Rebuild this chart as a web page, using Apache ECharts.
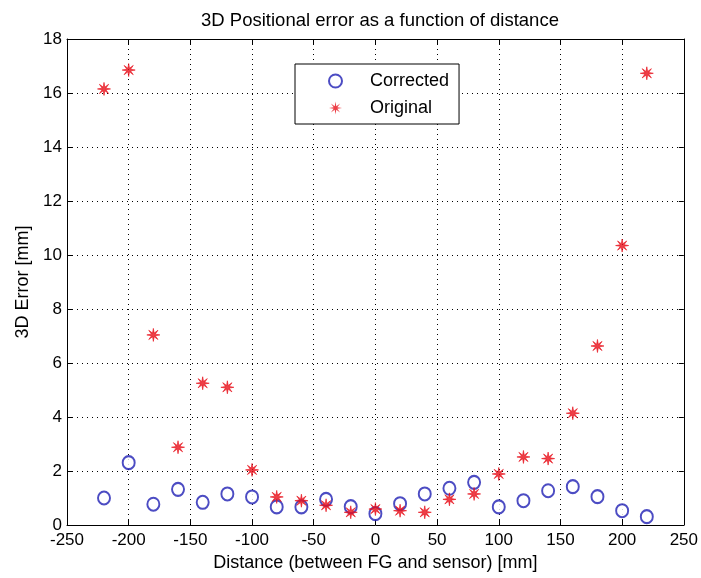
<!DOCTYPE html>
<html>
<head>
<meta charset="utf-8">
<script src="https://cdn.jsdelivr.net/npm/echarts@6/dist/echarts.min.js"></script>
<style>
  html, body { margin: 0; padding: 0; background: #fff; }
  #main { width: 701px; height: 578px; }
</style>
</head>
<body>
<div id="main"></div>
<script>
// distances along the axis [mm]
const distances = [-220, -200, -180, -160, -140, -120, -100, -80, -60, -40, -20, 0,
                   20, 40, 60, 80, 100, 120, 140, 160, 180, 200, 220];
// 3D error after correction [mm]
const corrected = [1.0, 2.31, 0.77, 1.32, 0.84, 1.15, 1.04, 0.67, 0.67, 0.95, 0.68, 0.42,
                   0.79, 1.15, 1.36, 1.58, 0.67, 0.9, 1.27, 1.42, 1.05, 0.53, 0.31];
// 3D error before correction [mm]
const original = [16.15, 16.85, 7.04, 2.88, 5.25, 5.1, 2.04, 1.04, 0.9, 0.73, 0.47, 0.59,
                  0.53, 0.47, 0.95, 1.15, 1.89, 2.52, 2.46, 4.14, 6.63, 10.35, 16.73];
const xTicks = [-250, 250, 50];
const yTicks = [0, 18, 2];

// MATLAB-like '*' marker
const starPath = 'path://M20 10 L12.8 11.2 L17.07 17.07 L11.2 12.8 L10 20 L8.8 12.8 L2.93 17.07 L7.2 11.2 L0 10 L7.2 8.8 L2.93 2.93 L8.8 7.2 L10 0 L11.2 7.2 L17.07 2.93 L12.8 8.8 Z';

const chart = echarts.init(document.getElementById('main'));
const font = 'Liberation Sans, Arial, sans-serif';

function pairs(ys) {
    return distances.map((d, i) => [d, ys[i]]);
}

// top / right frame axes without labels
const boxAxis = {
    axisLine: { show: true, onZero: false, lineStyle: { color: '#000', width: 1 } },
    axisTick: { show: true, inside: true, length: 5, lineStyle: { color: '#000' } },
    axisLabel: { show: false },
    splitLine: { show: false }
};

const option = {
    backgroundColor: '#fff',
    animation: false,
    title: {
        text: '3D Positional error as a function of distance',
        left: 375,
        textAlign: 'center',
        top: 6,
        textStyle: { fontFamily: font, fontSize: 18.5, fontWeight: 'normal', color: '#000' }
    },
    legend: {
        orient: 'vertical',
        left: 295,
        top: 64,
        padding: [8, 10, 7, 33],
        itemWidth: 13,
        itemHeight: 13,
        itemGap: 9,
        itemStyle: { borderWidth: 0 },
        borderColor: '#000',
        borderWidth: 1,
        backgroundColor: '#fff',
        textStyle: { fontFamily: font, fontSize: 18, color: '#000', padding: [0, 0, 0, 23] },
        data: [
            { name: 'Corrected', icon: 'emptyCircle' },
            { name: 'Original', icon: starPath }
        ]
    },
    grid: { left: 67, right: 15, top: 39, bottom: 53 },
    xAxis: [{
        type: 'value',
        min: xTicks[0], max: xTicks[1], interval: xTicks[2],
        name: 'Distance (between FG and sensor) [mm]',
        nameLocation: 'middle',
        nameGap: 29,
        nameTextStyle: { fontFamily: font, fontSize: 18, color: '#000' },
        axisLine: { show: true, onZero: false, lineStyle: { color: '#000', width: 1 } },
        axisTick: { show: true, inside: true, length: 5, lineStyle: { color: '#000' } },
        axisLabel: { fontFamily: font, fontSize: 17, color: '#000', margin: 7 },
        splitLine: { show: true, lineStyle: { color: '#000', type: [1, 4], width: 1 } }
    }, Object.assign({
        type: 'value', position: 'top',
        min: xTicks[0], max: xTicks[1], interval: xTicks[2]
    }, boxAxis)],
    yAxis: [{
        type: 'value',
        min: yTicks[0], max: yTicks[1], interval: yTicks[2],
        name: '3D Error [mm]',
        nameLocation: 'middle',
        nameGap: 35,
        nameTextStyle: { fontFamily: font, fontSize: 18, color: '#000' },
        axisLine: { show: true, onZero: false, lineStyle: { color: '#000', width: 1 } },
        axisTick: { show: true, inside: true, length: 5, lineStyle: { color: '#000' } },
        axisLabel: { fontFamily: font, fontSize: 17, color: '#000', margin: 5 },
        splitLine: { show: true, lineStyle: { color: '#000', type: [1, 4], width: 1 } }
    }, Object.assign({
        type: 'value', position: 'right',
        min: yTicks[0], max: yTicks[1], interval: yTicks[2]
    }, boxAxis)],
    series: [
        {
            name: 'Corrected',
            type: 'scatter',
            symbol: 'emptyCircle',
            symbolSize: [12, 13],
            itemStyle: { color: '#1f1fb4', borderColor: '#1f1fb4', borderWidth: 1.6 },
            data: pairs(corrected),
            z: 3
        },
        {
            name: 'Original',
            type: 'scatter',
            symbol: starPath,
            symbolSize: 13,
            itemStyle: { color: '#e8101a', borderColor: '#e8101a', borderWidth: 0.8 },
            data: pairs(original),
            z: 4
        }
    ]
};

chart.setOption(option);
</script>
</body>
</html>
